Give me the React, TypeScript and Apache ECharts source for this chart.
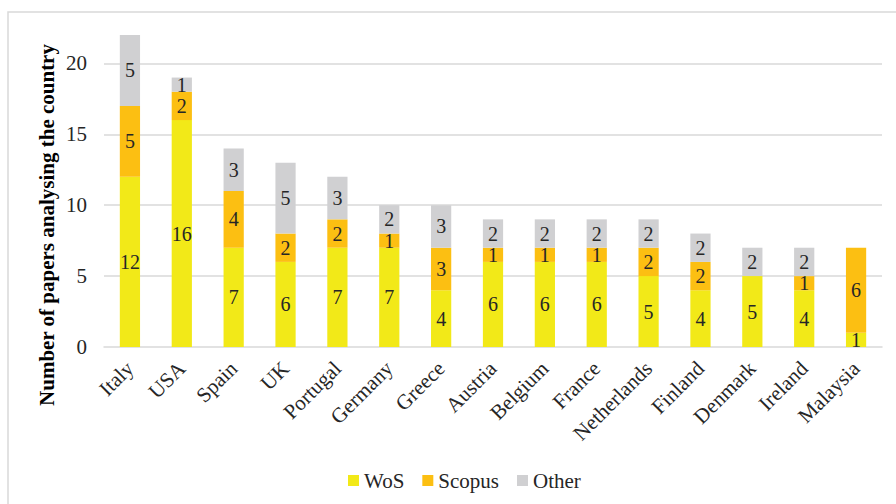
import React, { useEffect, useRef } from "react";
import * as echarts from "echarts";

const categories = ["Italy", "USA", "Spain", "UK", "Portugal", "Germany", "Greece", "Austria", "Belgium", "France", "Netherlands", "Finland", "Denmark", "Ireland", "Malaysia"];
const wos = [12, 16, 7, 6, 7, 7, 4, 6, 6, 6, 5, 4, 5, 4, 1];
const scopus = [5, 2, 4, 2, 2, 1, 3, 1, 1, 1, 2, 2, 0, 1, 6];
const other = [5, 1, 3, 5, 3, 2, 3, 2, 2, 2, 2, 2, 2, 2, 0];
const gridValues = [5, 10, 15, 20];

const FONT = "Liberation Serif";
const TEXT = "#262626";
const FS = 21;

export default function App() {
  const ref = useRef<HTMLDivElement>(null);
  useEffect(() => {
    if (!ref.current) return;
    const chart = echarts.init(ref.current, null, { renderer: "svg" });
    const label = {
      show: true,
      position: "inside",
      fontFamily: FONT,
      fontSize: 20,
      lineHeight: 13,
      color: TEXT,
      formatter: (p: any) => (p.value ? String(p.value) : ""),
    };
    const mk = (name: string, data: number[], color: string, extra: any = {}) => ({
      name,
      type: "bar",
      stack: "total",
      data,
      barWidth: "39%",
      itemStyle: { color },
      label,
      ...extra,
    });
    chart.setOption({
      animation: false,
      textStyle: { fontFamily: FONT },
      grid: { left: 104, right: 14, top: 35, bottom: 157 },
      legend: {
        bottom: 8,
        left: 343,
        itemWidth: 11,
        itemHeight: 11,
        itemGap: 18,
        icon: "rect",
        textStyle: { fontFamily: FONT, fontSize: FS, color: TEXT },
        data: ["WoS", "Scopus", "Other"],
      },
      xAxis: {
        type: "category",
        data: categories,
        axisLine: { lineStyle: { color: "#D9D9D9", width: 1.5 } },
        axisTick: { show: false },
        axisLabel: { rotate: 45, fontFamily: FONT, fontSize: FS, color: TEXT, margin: 18, interval: 0 },
      },
      yAxis: {
        type: "value",
        min: 0,
        max: 22,
        interval: 5,
        splitLine: { show: false },
        axisLine: { show: false },
        axisTick: { show: false },
        axisLabel: { showMaxLabel: false, fontFamily: FONT, fontSize: FS, color: TEXT, margin: 17 },
      },
      graphic: [
        {
          type: "rect",
          shape: { x: 8, y: 12, width: 1000, height: 1000 },
          style: { fill: "none", stroke: "#D9D9D9", lineWidth: 1.5 },
          silent: true,
        },
        {
          type: "text",
          x: 47,
          y: 225,
          rotation: Math.PI / 2,
          style: {
            text: "Number of papers analysing the country",
            font: `bold ${FS}px ${FONT}`,
            fill: "#000",
            align: "center",
            verticalAlign: "middle",
          },
        },
      ],
      series: [
        mk("WoS", wos, "#F2E918", {
          markLine: {
            silent: true,
            symbol: "none",
            label: { show: false },
            lineStyle: { color: "#D9D9D9", type: "solid", width: 1.5 },
            data: gridValues.map((v) => ({ yAxis: v })),
            z: 0,
          },
          z: 2,
        }),
        mk("Scopus", scopus, "#FCBF12", { z: 2 }),
        mk("Other", other, "#D0D0D2", { z: 2 }),
      ],
    });
    return () => chart.dispose();
  }, []);
  return <div ref={ref} style={{ position: "absolute", left: 0, top: 0, width: 896, height: 504 }} />;
}
